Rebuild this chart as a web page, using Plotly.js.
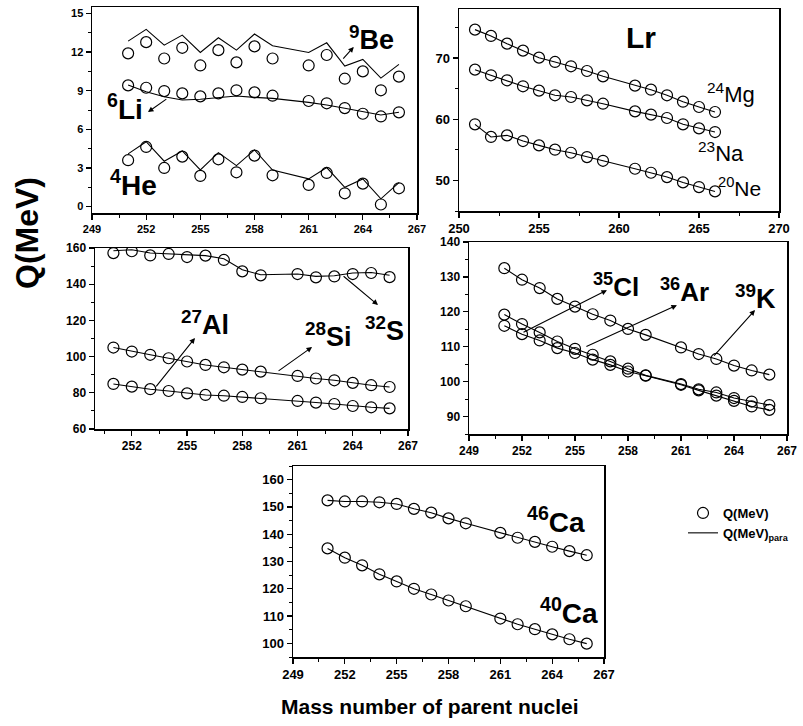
<!DOCTYPE html>
<html><head><meta charset="utf-8">
<script src="https://cdn.plot.ly/plotly-3.0.1.min.js"></script>
<style>html,body{margin:0;padding:0;background:#fff}#chart{width:803px;height:726px}</style>
</head><body><div id="chart"></div><script>
// Mass number of parent nuclei (Lr isotopes)
const mass = [251,252,253,254,255,256,257,258,259,261,262,263,264,265,266];

// Panel 1: light clusters
const heQ     = [3.60,4.63,3.00,3.88,2.38,3.67,2.66,3.96,2.43,1.68,2.61,1.03,1.78,0.16,1.42];
const heQpara = [4.09,5.04,3.52,4.32,2.84,4.19,3.18,4.40,2.84,2.15,3.03,1.50,2.15,0.60,1.86];
const liQ     = [9.41,9.23,8.97,8.79,8.56,8.79,9.03,8.87,8.61,8.20,8.02,7.65,7.21,7.00,7.32];
const liQpara = [9.44,8.92,8.53,8.28,8.33,8.46,8.59,8.48,8.40,8.09,7.89,7.63,7.37,7.11,7.32];
const beQ     = [11.90,12.77,11.50,12.33,10.96,12.15,11.20,12.44,11.50,10.96,11.77,9.93,10.50,9.03,10.09];
const beQpara = [12.85,13.76,12.54,13.32,11.97,13.11,12.15,13.40,12.49,11.97,12.72,10.91,11.43,9.98,11.04];

// Panel 2
const mgQ = [74.63,73.60,72.34,71.20,70.05,69.35,68.64,67.87,67.00,65.48,64.82,63.90,62.86,61.99,61.17];
const naQ = [68.09,67.17,66.35,65.37,64.66,63.90,63.62,63.08,62.53,61.28,60.74,60.19,59.16,58.50,57.90];
const neQ = [59.16,57.10,57.36,56.43,55.72,55.02,54.52,53.81,53.20,51.90,51.25,50.54,49.67,48.91,48.20];

// Panel 3
const sQ      = [157.2,158.2,155.9,156.7,155.0,155.8,153.4,147.1,144.9,145.6,143.8,144.3,145.6,146.2,143.9];
const sQpara  = [158.5,159.0,157.2,156.7,155.9,155.8,154.1,148.0,145.2,145.6,144.3,144.7,146.2,146.5,144.9];
const siQ     = [105.0,102.8,101.0,99.1,97.3,95.4,94.1,92.8,91.7,89.3,87.9,86.9,85.5,84.2,83.2];
const alQ     = [84.9,83.4,82.0,81.0,79.7,78.8,78.4,77.7,77.0,75.5,74.6,73.8,72.7,72.0,71.4];

// Panel 4
const kQ  = [132.5,129.2,126.8,123.7,121.5,119.3,117.5,115.1,113.4,109.8,107.9,106.5,104.6,103.2,102.0];
const arQ = [119.2,116.5,114.1,111.5,109.4,107.7,105.8,103.7,101.8,99.3,97.8,96.9,95.3,94.3,93.3];
const clQ = [116.0,113.6,111.8,109.6,108.2,106.3,104.8,102.9,101.7,99.1,97.5,96.0,94.5,92.9,91.9];

// Panel 5
const ca46Q = [152.4,152.0,152.0,151.7,151.1,149.3,147.9,145.8,144.0,140.5,138.7,137.2,135.4,133.8,132.3];
const ca40Q = [134.8,131.4,128.6,125.3,122.7,120.0,117.9,115.7,113.6,109.1,107.0,105.2,103.3,101.5,99.9];

const legendMarker = 'Q(MeV)';
const legendLine = 'Q(MeV)<sub>para</sub>';

const FONT = 'Liberation Sans, Arial, sans-serif';
const traces = [];
function addSeries(xa, ya, q, qpara) {
  traces.push({x: mass, y: qpara, xaxis: xa, yaxis: ya, mode: 'lines', type: 'scatter',
    line: {color: '#000', width: 1.1}, name: legendLine, showlegend: false, legendrank: 2});
  traces.push({x: mass, y: q, xaxis: xa, yaxis: ya, mode: 'markers', type: 'scatter',
    marker: {symbol: 'circle-open', size: 11, color: '#000', line: {width: 1.2, color: '#000'}},
    name: legendMarker, showlegend: false, legendrank: 1});
}
addSeries('x', 'y', heQ, heQpara);
addSeries('x', 'y', liQ, liQpara);
addSeries('x', 'y', beQ, beQpara);
addSeries('x2', 'y2', mgQ, mgQ);
addSeries('x2', 'y2', naQ, naQ);
addSeries('x2', 'y2', neQ, neQ);
addSeries('x3', 'y3', sQ, sQpara);
addSeries('x3', 'y3', siQ, siQ);
addSeries('x3', 'y3', alQ, alQ);
addSeries('x4', 'y4', kQ, kQ);
addSeries('x4', 'y4', arQ, arQ);
addSeries('x4', 'y4', clQ, clQ);
addSeries('x5', 'y5', ca46Q, ca46Q);
addSeries('x5', 'y5', ca40Q, ca40Q);
traces[traces.length - 1].showlegend = true;
traces[traces.length - 2].showlegend = true;

const W = 803, H = 726;
function dx(a, b) { return [a / W, b / W]; }
function dy(top, bottom) { return [1 - bottom / H, 1 - top / H]; }

function axis(domain, range, tick0, dtick, minor, anchor, fs) {
  return {domain: domain, range: range, anchor: anchor, tick0: tick0, dtick: dtick,
    showline: true, linecolor: '#000', linewidth: 1.5, mirror: true,
    ticks: 'outside', ticklen: 5, tickwidth: 1.2, tickcolor: '#000',
    minor: {dtick: minor, tick0: tick0, ticks: 'outside', ticklen: 3, tickwidth: 1, tickcolor: '#000', showgrid: false},
    showgrid: false, zeroline: false,
    tickfont: {family: FONT, size: fs, color: '#000', weight: 'bold'}};
}
// inward ticks on the top and right frame edges
function mirrorAxis(base, over, anchor, side) {
  return {domain: base.domain, range: base.range, overlaying: over, anchor: anchor, side: side,
    tick0: base.tick0, dtick: base.dtick, showline: false, showticklabels: false,
    ticks: 'inside', ticklen: 5, tickwidth: 1.2, tickcolor: '#000',
    minor: {dtick: base.minor.dtick, tick0: base.tick0, ticks: 'inside', ticklen: 3, tickwidth: 1, tickcolor: '#000', showgrid: false},
    showgrid: false, zeroline: false};
}

const layout = {
  width: W, height: H, margin: {l: 0, r: 0, t: 0, b: 0},
  paper_bgcolor: '#fff', plot_bgcolor: '#fff', showlegend: true,
  legend: {x: 683 / W, y: 1 - 498 / H, xanchor: 'left', yanchor: 'top', bgcolor: 'rgba(0,0,0,0)',
    font: {family: FONT, size: 13, color: '#000', weight: 'bold'}, tracegroupgap: 0},
  xaxis:  axis(dx(92, 417), [249, 267], 249, 3, 1.5, 'y', 11),
  yaxis:  axis(dy(7, 213), [-0.5, 15.5], 0, 3, 1.5, 'x', 11),
  xaxis2: axis(dx(459, 779), [250, 270], 250, 5, 2.5, 'y2', 13),
  yaxis2: axis(dy(9, 211), [45, 78], 50, 10, 5, 'x2', 13),
  xaxis3: axis(dx(95, 408), [250, 267], 249, 3, 1.5, 'y3', 12),
  yaxis3: axis(dy(248, 429), [60, 160], 60, 20, 10, 'x3', 12),
  xaxis4: axis(dx(469, 787), [249, 267], 249, 3, 1.5, 'y4', 12),
  yaxis4: axis(dy(242, 434), [85, 140], 90, 10, 5, 'x4', 12),
  xaxis5: axis(dx(293, 604), [249, 267], 249, 3, 1.5, 'y5', 13),
  yaxis5: axis(dy(466, 657), [95, 165], 100, 10, 5, 'x5', 13),
  annotations: []
};
const ids = ['', '2', '3', '4', '5'];
ids.forEach((s, i) => {
  const n = 6 + i;
  layout['xaxis' + n] = mirrorAxis(layout['xaxis' + s], 'x' + s, 'y' + s, 'top');
  layout['yaxis' + n] = mirrorAxis(layout['yaxis' + s], 'y' + s, 'x' + s, 'right');
});

function label(xr, yr, x, y, text, size, bold) {
  layout.annotations.push({xref: xr, yref: yr, x: x, y: y, text: text, showarrow: false,
    font: {family: FONT, size: size, color: '#000', weight: bold ? 'bold' : 'normal'}});
}
function arrow(xr, yr, x0, y0, x1, y1) {
  layout.annotations.push({xref: xr, yref: yr, axref: xr, ayref: yr, x: x1, y: y1, ax: x0, ay: y0,
    text: '', showarrow: true, arrowhead: 2, arrowsize: 1, arrowwidth: 1.1, arrowcolor: '#000'});
}
// Panel 1
label('x', 'y', 264.5, 13.1, '<sup>9</sup>Be', 27, true);
label('x', 'y', 250.8, 7.7, '<sup>6</sup>Li', 28, true);
label('x', 'y', 251.3, 1.8, '<sup>4</sup>He', 28, true);
arrow('x', 'y', 262.84, 11.38, 263.5, 12.4);
arrow('x', 'y', 253.2, 8.43, 252.1, 7.34);
// Panel 2
label('x2', 'y2', 261.4, 73.4, 'Lr', 30, true);
label('x2', 'y2', 267.0, 64.3, '<sup>24</sup>Mg', 22, false);
label('x2', 'y2', 266.4, 54.7, '<sup>23</sup>Na', 22, false);
label('x2', 'y2', 267.5, 49.0, '<sup>20</sup>Ne', 21, false);
// Panel 3
label('x3', 'y3', 256.0, 118.5, '<sup>27</sup>Al', 27, true);
label('x3', 'y3', 262.7, 112.0, '<sup>28</sup>Si', 27, true);
label('x3', 'y3', 265.7, 115.0, '<sup>32</sup>S', 27, true);
arrow('x3', 'y3', 253.26, 82.7, 255.43, 110.3);
arrow('x3', 'y3', 259.89, 91.5, 261.79, 105.3);
arrow('x3', 'y3', 263.42, 145.1, 265.37, 128.5);
// Panel 4
label('x4', 'y4', 257.3, 127.5, '<sup>35</sup>Cl', 26, true);
label('x4', 'y4', 261.2, 126.0, '<sup>36</sup>Ar', 26, true);
label('x4', 'y4', 265.2, 124.3, '<sup>39</sup>K', 27, true);
arrow('x4', 'y4', 252.0, 113.9, 256.81, 126.2);
arrow('x4', 'y4', 255.56, 109.9, 260.77, 121.9);
arrow('x4', 'y4', 262.8, 107.0, 265.19, 120.5);
// Panel 5
label('x5', 'y5', 264.2, 145.2, '<sup>46</sup>Ca', 28, true);
label('x5', 'y5', 265.0, 111.8, '<sup>40</sup>Ca', 28, true);

// Global axis titles
layout.annotations.push({xref: 'paper', yref: 'paper', x: 430 / W, y: 1 - 706 / H, xanchor: 'center', yanchor: 'middle',
  text: 'Mass number of parent nuclei', showarrow: false, font: {family: FONT, size: 21, color: '#000', weight: 'bold'}});
layout.annotations.push({xref: 'paper', yref: 'paper', x: 27 / W, y: 1 - 233 / H, xanchor: 'center', yanchor: 'middle',
  text: 'Q(MeV)', textangle: -90, showarrow: false, font: {family: FONT, size: 32, color: '#000', weight: 'bold'}});

Plotly.newPlot('chart', traces, layout, {staticPlot: true, displayModeBar: false});
</script></body></html>
